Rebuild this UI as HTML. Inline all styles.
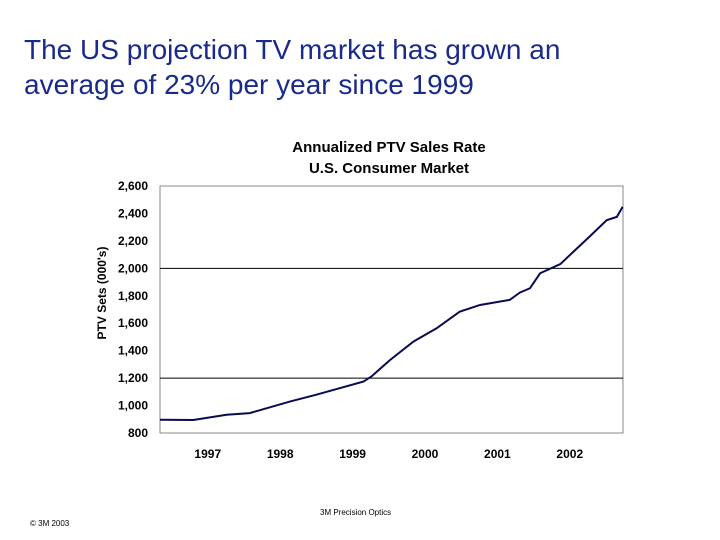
<!DOCTYPE html>
<html><head><meta charset="utf-8"><style>
body{margin:0;width:720px;height:540px;background:#fff;overflow:hidden;font-family:"Liberation Sans",Arial,sans-serif;}
.h{position:absolute;left:24px;font-size:28px;color:#1a2a8a;line-height:35px;}
</style></head><body>
<div class="h" style="top:32px;">The US projection TV market has grown an<br>average of 23% per year since 1999</div>
<svg id="c" width="720" height="540" style="position:absolute;left:0;top:0"></svg>
<div style="position:absolute;left:320px;top:508px;font-size:8px;">3M Precision Optics</div>
<div style="position:absolute;left:30px;top:519px;font-size:8px;">© 3M 2003</div>
<script>
const years=[1996.34,1996.8,1997.26,1997.58,1998.14,1998.5,1999.15,1999.26,1999.52,1999.84,2000.16,2000.48,2000.76,2001.17,2001.31,2001.45,2001.59,2001.87,2002.05,2002.28,2002.51,2002.65,2002.73];
const sales=[897,895,933,945,1030,1079,1175,1212,1333,1466,1563,1684,1733,1770,1823,1855,1964,2031,2121,2235,2351,2375,2448];
const yTicks=[800,1000,1200,1400,1600,1800,2000,2200,2400,2600];
const xTicks=[1997,1998,1999,2000,2001,2002];
const gridVals=[1200,2000];
const NS="http://www.w3.org/2000/svg",svg=document.getElementById('c');
const L=160,R=623,T=186,B=433;
const x=v=>160+(v-1996.34)*72.4;
const y=v=>B-(v-800)*(B-T)/1800;
function el(t,a,txt){const e=document.createElementNS(NS,t);for(const k in a)e.setAttribute(k,a[k]);if(txt!=null)e.textContent=txt;svg.appendChild(e);return e;}
let e=el('rect',{x:L,y:T,width:R-L,height:B-T,fill:'#fff',stroke:'#888','stroke-width':1});


gridVals.forEach(g=>{const l=el('line',{x1:L,x2:R,y1:y(g),y2:y(g),stroke:'#000','stroke-width':1});

});
yTicks.forEach(t=>{const s=el('text',{x:148,y:y(t)+4,'text-anchor':'end','font-size':12,'font-weight':'bold'},t.toLocaleString('en-US'));

});
xTicks.forEach(t=>{const s=el('text',{x:x(t),y:458,'text-anchor':'middle','font-size':12,'font-weight':'bold'},t);

});
let p=el('polyline',{points:years.map((v,i)=>x(v)+','+y(sales[i])).join(' '),fill:'none',stroke:'#0a0a50','stroke-width':2});


let t1=el('text',{x:389,y:152,'text-anchor':'middle','font-size':15,'font-weight':'bold'},'Annualized PTV Sales Rate');


let t2=el('text',{x:389,y:173,'text-anchor':'middle','font-size':15,'font-weight':'bold'},'U.S. Consumer Market');


let ya=el('text',{x:106,y:293,'text-anchor':'middle','font-size':12,'font-weight':'bold',transform:'rotate(-90 106 293)'},"PTV Sets (000's)");


</script>
</body></html>
